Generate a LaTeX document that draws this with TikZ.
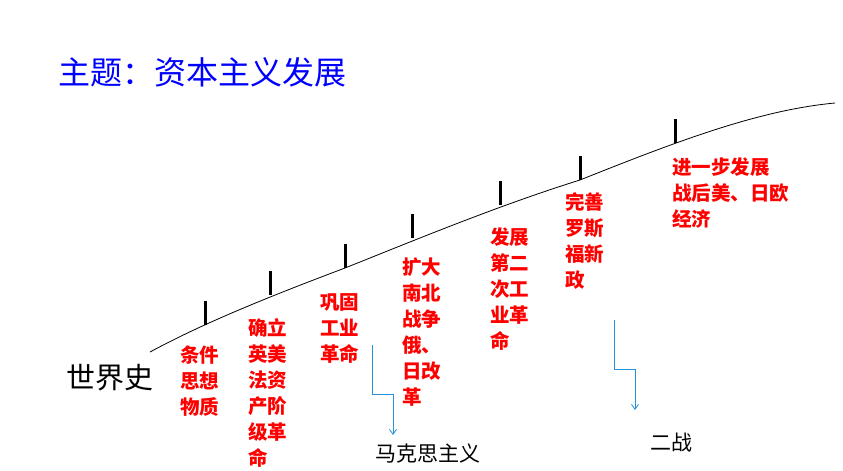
\documentclass[tikz,border=0pt]{standalone}
\usepackage{fontspec}
\setmainfont{Noto Sans CJK SC}
\usetikzlibrary{arrows.meta}
\begin{document}
\begin{tikzpicture}[x=1pt,y=-1pt,
  red/.style={anchor=north west,align=left,text=red,inner sep=0pt,font=\fontsize{19.5}{26}\selectfont\bfseries},
  tickl/.style={line width=3pt},
  arr/.style={draw=blue!40!cyan!70!gray,-{Straight Barb[length=5pt,width=7pt]},line width=0.8pt}]
\useasboundingbox (0,0) rectangle (843,471);
\node[anchor=west,text=blue,font=\fontsize{32}{34}\selectfont,inner sep=0pt] (title) at (58,72) {主题：资本主义发展};
\draw[line width=0.8pt] (150,352) .. controls (200,325) and (260,300) .. (345,268)
  .. controls (420,238) and (500,205) .. (580,180) .. controls (680,140) and (760,110) .. (835,103);
\foreach \x/\y in {205/325,270/295,345/268,412/238,500/205,580/180,675/143}
  \draw[tickl] (\x,\y-24) -- (\x,\y);
\node[anchor=west,font=\fontsize{29}{30}\selectfont,inner sep=0pt] (sjs) at (66,378) {世界史};
\node[red] (a) at (180,346) {条件\\思想\\物质};
\node[red] (b) at (248,318) {确立\\英美\\法资\\产阶\\级革\\命};
\node[red] (c) at (320,293) {巩固\\工业\\革命};
\node[red] (d) at (402,258) {扩大\\南北\\战争\\俄、\\日改\\革};
\node[red] (e) at (490,227) {发展\\第二\\次工\\业革\\命};
\node[red] (f) at (565,192) {完善\\罗斯\\福新\\政};
\node[red] (g) at (672,157) {进一步发展\\战后美、日欧\\经济};
\node[anchor=west,font=\fontsize{21}{22}\selectfont,inner sep=0pt] (mk) at (375,453) {马克思主义};
\node[anchor=west,font=\fontsize{21}{22}\selectfont,inner sep=0pt] (ez) at (650,443) {二战};
\coordinate (s1) at (372,345); \coordinate (s2) at (614,320);
\draw[arr] (s1) -- (372,394) -- (393,394) -- (393,435);
\draw[arr] (s2) -- (614,369) -- (635,369) -- (635,410);
\end{tikzpicture}
\end{document}
